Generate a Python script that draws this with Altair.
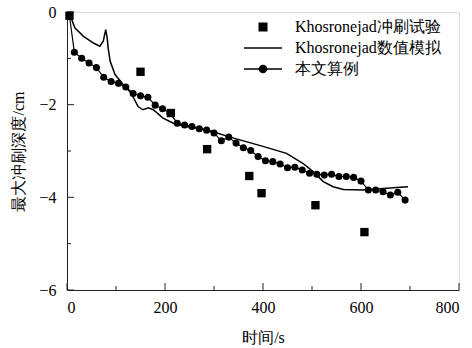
import altair as alt
import pandas as pd

# ---------------- data ----------------
exp_t = [5, 150, 212, 286, 372, 397, 507, 607]
exp_d = [-0.08, -1.29, -2.18, -2.96, -3.54, -3.91, -4.17, -4.75]

sim_t = [5, 16, 33, 54, 67, 74, 79, 82, 84, 88, 98, 115, 131, 145, 155, 166, 176,
         196, 217, 244, 285, 333, 400, 448, 482, 503, 523, 543, 564, 605, 646, 680, 696]
sim_d = [-0.03, -0.34, -0.52, -0.67, -0.74, -0.63, -0.38, -0.56, -0.78, -1.06, -1.35,
         -1.57, -1.75, -2.04, -2.11, -2.07, -2.11, -2.29, -2.40, -2.47, -2.54, -2.70,
         -2.90, -3.05, -3.27, -3.45, -3.66, -3.77, -3.83, -3.84, -3.81, -3.78, -3.77]

cal_t = [5, 15, 30, 45, 60, 75, 90, 105, 120, 135, 150, 165, 180, 195, 210, 225, 240,
         255, 270, 285, 300, 315, 330, 345, 360, 375, 390, 405, 420, 435, 450, 465, 480,
         495, 510, 525, 540, 555, 570, 585, 600, 615, 630, 645, 660, 675, 690]
cal_d = [-0.08, -0.87, -1.00, -1.10, -1.20, -1.41, -1.50, -1.54, -1.62, -1.76, -1.81,
         -1.84, -2.01, -2.09, -2.18, -2.40, -2.44, -2.47, -2.52, -2.55, -2.61, -2.78,
         -2.70, -2.83, -2.93, -2.99, -3.12, -3.21, -3.23, -3.28, -3.36, -3.35, -3.41,
         -3.48, -3.50, -3.52, -3.50, -3.55, -3.55, -3.57, -3.65, -3.84, -3.84, -3.88,
         -3.95, -3.89, -4.06]

series_names = ["Khosronejad冲刷试验", "Khosronejad数值模拟", "本文算例"]

x_major = [0, 200, 400, 600, 800]
x_minor = [100, 300, 500, 700]
y_major = [0, -2, -4, -6]
y_minor = [-1, -3, -5]

x_title = "时间/s"
y_title = "最大冲刷深度/cm"

# ---------------- frames ----------------
exp_df = pd.DataFrame({"t": exp_t, "d": exp_d})
sim_df = pd.DataFrame({"t": sim_t, "d": sim_d})
cal_df = pd.DataFrame({"t": cal_t, "d": cal_d})
leg_df = pd.DataFrame({"t": [exp_t[0]] * 3, "d": [exp_d[0]] * 3, "s": series_names})
xmaj_df = pd.DataFrame({"t": x_major})
xmin_df = pd.DataFrame({"t": x_minor})
ymaj_df = pd.DataFrame({"d": y_major})
ymin_df = pd.DataFrame({"d": y_minor})

W, H = 392, 278
FONT = "Liberation Serif"

xs = alt.Scale(domain=[0, 800], nice=False, zero=False)
ys = alt.Scale(domain=[-6, 0], nice=False, zero=False)

x_axis = alt.Axis(values=x_major, ticks=False, grid=False, labelFont=FONT, labelFontSize=16,
                  labelColor="black", labelPadding=9, domainColor="#222", title=x_title,
                  titleFont=FONT, titleFontSize=16, titleFontWeight="normal", titleColor="black",
                  titlePadding=14)
y_axis = alt.Axis(values=y_major, ticks=False, grid=False, labelFont=FONT, labelFontSize=16,
                  labelColor="black", labelPadding=11, domainColor="#222", title=y_title,
                  titleFont=FONT, titleFontSize=16, titleFontWeight="normal", titleColor="black",
                  titlePadding=12)

sim = alt.Chart(sim_df).mark_line(color="black", strokeWidth=1.5).encode(
    x=alt.X("t:Q", scale=xs, axis=x_axis),
    y=alt.Y("d:Q", scale=ys, axis=y_axis),
)

cal = alt.Chart(cal_df).mark_line(
    color="black", strokeWidth=1.2,
    point=alt.OverlayMarkDef(filled=True, color="black", size=50, shape="circle", opacity=1),
).encode(x=alt.X("t:Q", scale=xs), y=alt.Y("d:Q", scale=ys))

exp = alt.Chart(exp_df).mark_point(shape="square", filled=True, color="black", size=70,
                                   opacity=1).encode(
    x=alt.X("t:Q", scale=xs), y=alt.Y("d:Q", scale=ys))

shape_range = [
    "M-0.75,-0.75H0.75V0.75H-0.75Z",
    "M-3.8,0H3.8",
    "M-3.8,0H3.8M-0.7,0A0.7,0.7,0,1,0,0.7,0A0.7,0.7,0,1,0,-0.7,0Z",
]

leg = alt.Chart(leg_df).mark_point(filled=False, fill="black", stroke="black", strokeWidth=1.5,
                                   opacity=0).encode(
    x=alt.X("t:Q", scale=xs), y=alt.Y("d:Q", scale=ys),
    shape=alt.Shape("s:N", scale=alt.Scale(domain=series_names, range=shape_range),
                    legend=alt.Legend(title=None, orient="none", legendX=188, legendY=7,
                                      symbolSize=100, symbolOpacity=1,
                                      symbolStrokeWidth=1.5,
                                      labelFont=FONT, labelFontSize=16, labelColor="black",
                                      labelOffset=24, rowPadding=5, labelLimit=400)),
)

tick_x_major = alt.Chart(xmaj_df).mark_rule(color="#222", strokeWidth=1).encode(
    x=alt.X("t:Q", scale=xs), y=alt.value(H), y2=alt.value(H - 7))
tick_x_minor = alt.Chart(xmin_df).mark_rule(color="#222", strokeWidth=1).encode(
    x=alt.X("t:Q", scale=xs), y=alt.value(H), y2=alt.value(H - 4))
tick_y_major = alt.Chart(ymaj_df).mark_rule(color="#222", strokeWidth=1).encode(
    y=alt.Y("d:Q", scale=ys), x=alt.value(0), x2=alt.value(7))
tick_y_minor = alt.Chart(ymin_df).mark_rule(color="#222", strokeWidth=1).encode(
    y=alt.Y("d:Q", scale=ys), x=alt.value(0), x2=alt.value(4))

chart = alt.layer(
    tick_x_major, tick_x_minor, tick_y_major, tick_y_minor, sim, cal, exp, leg
).properties(
    width=W, height=H,
    autosize=alt.AutoSizeParams(type="none"),
    padding={"left": 67, "top": 12, "right": 13, "bottom": 58},
).configure_view(stroke=None).configure(background="white")

chart.save("out.html", embed_options={"renderer": "svg", "actions": False})
